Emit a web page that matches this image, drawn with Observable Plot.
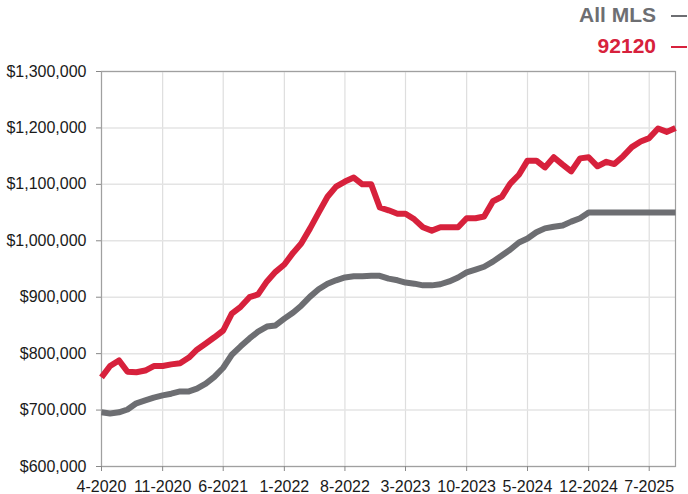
<!DOCTYPE html>
<html>
<head>
<meta charset="utf-8">
<script src="https://cdn.jsdelivr.net/npm/d3@7"></script>
<script src="https://cdn.jsdelivr.net/npm/@observablehq/plot@0.6"></script>
<style>
  html, body { margin: 0; padding: 0; background: #fff; }
  body { width: 688px; height: 494px; overflow: hidden; font-family: "Liberation Sans", Arial, Helvetica, sans-serif; }
  #legend { position: relative; width: 688px; height: 60px; }
  .lg { position: absolute; right: 32px; font-size: 21px; line-height: 1; font-weight: bold; white-space: nowrap; }
  .dash { position: absolute; left: 671px; width: 16px; height: 2.5px; }
</style>
</head>
<body>
<div id="legend"></div>
<div id="chart"></div>
<script>
// Data (values in thousands of dollars), monthly from 4-2020 to 10-2025
const startMonth = Date.UTC(2020, 3, 1);
const seriesNames = ["All MLS", "92120"];
const seriesColors = ["#6d6e72", "#d7213c"];
const allMLS = [696,694,696,701,712,717,722,726,729,733,
  733,738,747,759,775,798,813,827,839,848,
  850,862,873,885,901,914,924,930,935,937,
  937,938,938,933,930,926,924,921,921,923,
  928,935,944,949,954,963,974,984,997,1004,
  1015,1022,1025,1027,1034,1040,1050,1050,1050,1050,
  1050,1050,1050,1050,1050,1050,1050];
const zip92120 = [758,778,788,768,767,770,778,778,781,783,
  793,807,818,829,841,871,883,900,905,928,
  945,958,979,995,1022,1050,1078,1096,1105,1112,
  1100,1100,1059,1054,1048,1048,1038,1024,1018,1024,
  1024,1024,1040,1040,1043,1070,1078,1101,1117,1142,
  1142,1130,1148,1135,1123,1146,1148,1132,1140,1136,
  1150,1166,1176,1182,1199,1193,1200];
const xTickLabels = ["4-2020","11-2020","6-2021","1-2022","8-2022","3-2023","10-2023","5-2024","12-2024","7-2025"];
const yTicks = [600000,700000,800000,900000,1000000,1100000,1200000,1300000];

const months = d3.utcMonth.range(startMonth, d3.utcMonth.offset(new Date(startMonth), allMLS.length));
const parseTick = s => { const [m, y] = s.split("-").map(Number); return new Date(Date.UTC(y, m - 1, 1)); };
const xTicks = xTickLabels.map(parseTick);
const fmtTick = d => (d.getUTCMonth() + 1) + "-" + d.getUTCFullYear();

const grayData = allMLS.map((v, i) => ({date: months[i], value: v * 1000}));
const redData = zip92120.map((v, i) => ({date: months[i], value: v * 1000}));

// Legend
const legend = document.getElementById("legend");
[[4, 14.5], [35, 45.5]].forEach(([top, dy], k) => {
  const t = document.createElement("div");
  t.className = "lg";
  t.style.top = top + "px";
  t.style.color = seriesColors[k];
  t.textContent = seriesNames[k];
  legend.appendChild(t);
  const d = document.createElement("div");
  d.className = "dash";
  d.style.top = dy + "px";
  d.style.background = seriesColors[k];
  legend.appendChild(d);
});

const chart = Plot.plot({
  width: 688,
  height: 434,
  marginLeft: 101,
  marginRight: 13,
  marginTop: 11,
  marginBottom: 28,
  style: {fontFamily: "'Liberation Sans', Arial, Helvetica, sans-serif", fontSize: "16px", background: "#fff", color: "#1a1a1a"},
  x: {type: "utc", domain: [months[0], months[months.length - 1]]},
  y: {domain: [600000, 1300000]},
  marks: [
    Plot.gridX(xTicks, {stroke: "#dedede", strokeOpacity: 1, strokeWidth: 1.2}),
    Plot.gridY(yTicks, {stroke: "#e4e4e4", strokeOpacity: 1, strokeWidth: 1.5}),
    Plot.frame({stroke: "#a0a0a0", strokeWidth: 1.2}),
    Plot.lineY(grayData, {x: "date", y: "value", stroke: seriesColors[0], strokeWidth: 6, strokeLinejoin: "round", strokeLinecap: "butt"}),
    Plot.lineY(redData, {x: "date", y: "value", stroke: seriesColors[1], strokeWidth: 6, strokeLinejoin: "round", strokeLinecap: "butt"}),
    Plot.axisX(xTicks, {tickFormat: fmtTick, tickSize: 5, tickPadding: 9, stroke: "#888", fill: "#1a1a1a", label: null}),
    Plot.axisY(yTicks, {tickFormat: d => "$" + d3.format(",")(d), tickSize: 5, tickPadding: 10, stroke: "#888", fill: "#1a1a1a", label: null})
  ]
});
document.getElementById("chart").appendChild(chart);
</script>
</body>
</html>
